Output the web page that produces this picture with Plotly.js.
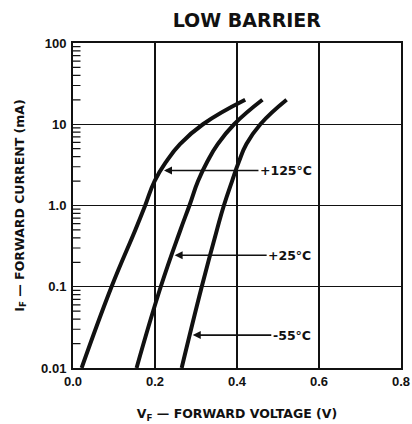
<!DOCTYPE html>
<html>
<head>
<meta charset="utf-8">
<script src="https://cdn.plot.ly/plotly-3.0.1.min.js"></script>
<style>
  html, body { margin: 0; padding: 0; background: #fff; }
  #chart { width: 412px; height: 424px; }
</style>
</head>
<body>
<div id="chart"></div>
<script>
// Forward current (mA) sample levels shared by the three curves
const currentMA = [0.01, 0.1, 0.5, 1, 2, 3.5, 5.7, 10, 20];
// Forward voltage (V) at each current level, per temperature
const vf125 = [0.021, 0.094, 0.152, 0.176, 0.199, 0.228, 0.261, 0.317, 0.420];
const vf25  = [0.155, 0.214, 0.262, 0.284, 0.305, 0.328, 0.353, 0.393, 0.462];
const vfm55 = [0.265, 0.314, 0.351, 0.368, 0.388, 0.405, 0.423, 0.457, 0.521];

const seriesNames = ["+125°C", "+25°C", "-55°C"];
const seriesV = [vf125, vf25, vfm55];
// current (mA) at which each label's arrow points to its curve
const labelCurrent = [2.7, 0.244, 0.0254];
const labelOffsetPx = [125, 118, 102];

const xTickVals = [0, 0.2, 0.4, 0.6, 0.8];
const xTickText = ["0.0", "0.2", "0.4", "0.6", "0.8"];
const yTickVals = [0.01, 0.1, 1, 10, 100];
const yTickText = ["0.01", "0.1", "1.0", "10", "100"];
// minor log tick positions (mA), 2..9 within each decade
const minorTickVals = [
  0.02, 0.03, 0.04, 0.05, 0.06, 0.07, 0.08, 0.09,
  0.2, 0.3, 0.4, 0.5, 0.6, 0.7, 0.8, 0.9,
  2, 3, 4, 5, 6, 7, 8, 9,
  20, 30, 40, 50, 60, 70, 80, 90
];

// voltage on a curve at a given current (log interpolation)
function vAt(vs, i) {
  const li = Math.log10(i);
  for (let k = 0; k + 1 < currentMA.length; k++) {
    const a = Math.log10(currentMA[k]), b = Math.log10(currentMA[k + 1]);
    if (li >= a && li <= b) {
      const t = (li - a) / (b - a);
      return vs[k] + t * (vs[k + 1] - vs[k]);
    }
  }
  return vs[0];
}

const traces = seriesV.map((vs, idx) => ({
  type: "scatter",
  mode: "lines",
  name: seriesNames[idx],
  x: vs,
  y: currentMA,
  line: { color: "#111", width: 4, shape: "spline", smoothing: 1.3 },
  hoverinfo: "skip"
}));

const labelFont = { family: "DejaVu Sans", size: 12.5, color: "#111", weight: "bold" };

const annotations = seriesNames.map((name, idx) => ({
  x: vAt(seriesV[idx], labelCurrent[idx]),
  y: Math.log10(labelCurrent[idx]),
  xref: "x", yref: "y",
  text: "<b>" + name + "</b>",
  font: labelFont,
  showarrow: true,
  arrowhead: 2,
  arrowsize: 1,
  arrowwidth: 1.6,
  arrowcolor: "#111",
  standoff: 3,
  ax: labelOffsetPx[idx],
  ay: 0
}));

// minor ticks inside the left axis, drawn as headless annotation arrows
minorTickVals.forEach(v => {
  annotations.push({
    x: 0, y: Math.log10(v), xref: "x", yref: "y",
    text: " ",
    font: { size: 1 },
    borderpad: 0,
    showarrow: true,
    arrowhead: 0,
    arrowwidth: 1.2,
    arrowcolor: "#111",
    standoff: 0,
    ax: 8, ay: 0
  });
});

const axisTitleFont = { family: "DejaVu Sans", size: 12.5, color: "#111", weight: "bold" };
const tickFont = { family: "Liberation Sans", size: 13, color: "#111", weight: "bold" };

const layout = {
  width: 412,
  height: 424,
  margin: { l: 73, r: 11, t: 43, b: 56 },
  paper_bgcolor: "#fff",
  plot_bgcolor: "#fff",
  showlegend: false,
  title: {
    text: "<b>LOW BARRIER</b>",
    font: { family: "DejaVu Sans", size: 19, color: "#111", weight: "bold" },
    x: 0.53, xref: "paper", xanchor: "center",
    y: 0.953, yref: "container", yanchor: "middle"
  },
  xaxis: {
    range: [0, 0.8],
    tickmode: "array",
    tickvals: xTickVals,
    ticktext: xTickText,
    tickfont: tickFont,
    ticks: "",
    showgrid: true,
    gridcolor: "#111",
    gridwidth: 1.3,
    zeroline: false,
    showline: true,
    linecolor: "#111",
    linewidth: 2,
    mirror: true,
    title: { text: "<b>V<sub>F</sub> — FORWARD VOLTAGE (V)</b>", font: axisTitleFont, standoff: 22 }
  },
  yaxis: {
    type: "log",
    range: [-2, 2],
    tickmode: "array",
    tickvals: yTickVals,
    ticktext: yTickText,
    tickfont: tickFont,
    ticks: "",
    ticklabelstandoff: 2,
    showgrid: true,
    gridcolor: "#111",
    gridwidth: 1.3,
    zeroline: false,
    showline: true,
    linecolor: "#111",
    linewidth: 2,
    mirror: true,
    title: { text: "<b>I<sub>F</sub> — FORWARD CURRENT (mA)</b>", font: axisTitleFont, standoff: 14 }
  },
  annotations: annotations
};

Plotly.newPlot("chart", traces, layout, { staticPlot: true, displayModeBar: false });
</script>
</body>
</html>
